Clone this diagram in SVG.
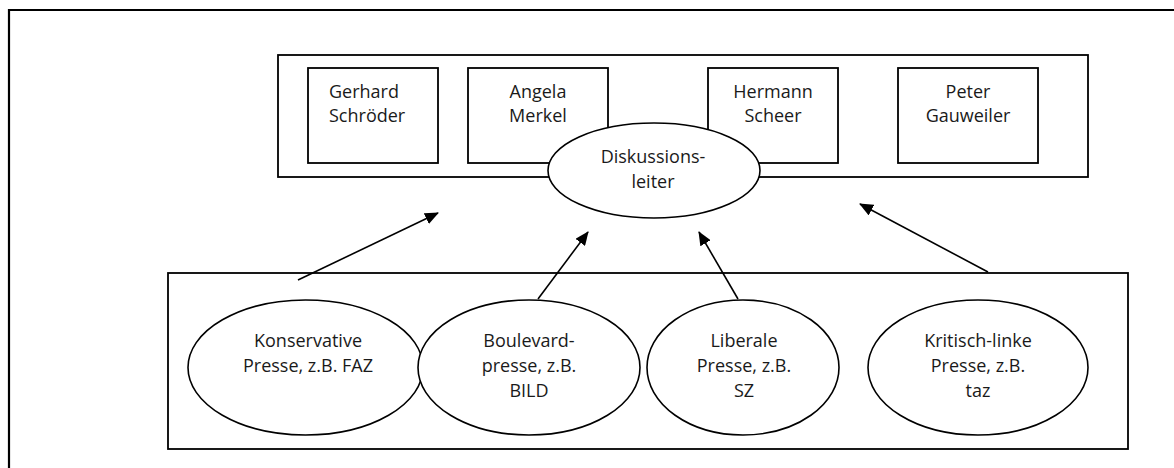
<svg xmlns="http://www.w3.org/2000/svg" width="1174" height="468" viewBox="0 0 1174 468">
<style>
.box{fill:#fff;stroke:#000;stroke-width:1.8}
.ell{fill:#fff;stroke:#000;stroke-width:1.6}
.t{font-family:"Open Sans","DejaVu Sans",sans-serif;font-size:18px;fill:#1a1a1a;text-anchor:middle}
.l{text-anchor:start}
.con{stroke:#000;stroke-width:1.6;fill:none;marker-end:url(#ah)}
</style>
<defs>
<marker id="ah" markerWidth="14" markerHeight="12" refX="13" refY="6" orient="auto" markerUnits="userSpaceOnUse">
<path d="M0,0 L14,6 L0,12 Z" fill="#000"/>
</marker>
</defs>
<rect width="1174" height="468" fill="#fff"/>
<path d="M9,468 L9,10 L1174,10" fill="none" stroke="#000" stroke-width="2.2"/>

<g id="podium">
<rect class="box" x="278" y="55" width="810" height="122"/>
</g>
<g id="schroeder">
<rect class="box" x="308" y="68" width="130" height="95"/>
<text class="t l" x="329" y="98">Gerhard</text>
<text class="t l" x="329" y="122">Schröder</text>
</g>
<g id="merkel">
<rect class="box" x="468" y="68" width="140" height="95"/>
<text class="t" x="538" y="98">Angela</text>
<text class="t" x="538" y="122">Merkel</text>
</g>
<g id="scheer">
<rect class="box" x="708" y="68" width="130" height="95"/>
<text class="t" x="773" y="98">Hermann</text>
<text class="t" x="773" y="122">Scheer</text>
</g>
<g id="gauweiler">
<rect class="box" x="898" y="68" width="140" height="95"/>
<text class="t" x="968" y="98">Peter</text>
<text class="t" x="968" y="122">Gauweiler</text>
</g>
<g id="diskussionsleiter">
<ellipse class="ell" cx="654" cy="170.5" rx="106" ry="47.5"/>
<text class="t" x="653" y="163">Diskussions-</text>
<text class="t" x="653" y="188">leiter</text>
</g>

<g id="presse">
<rect class="box" x="168" y="273" width="960" height="176"/>
</g>
<g id="konservativ">
<ellipse class="ell" cx="305.5" cy="367.5" rx="117.5" ry="67.5"/>
<text class="t" x="308" y="347">Konservative</text>
<text class="t" x="308" y="372">Presse, z.B. FAZ</text>
</g>
<g id="boulevard">
<ellipse class="ell" cx="529" cy="367.5" rx="111" ry="67.5"/>
<text class="t" x="529" y="347">Boulevard-</text>
<text class="t" x="529" y="372">presse, z.B.</text>
<text class="t" x="529" y="397">BILD</text>
</g>
<g id="liberal">
<ellipse class="ell" cx="743" cy="367.5" rx="96" ry="67.5"/>
<text class="t" x="744" y="347">Liberale</text>
<text class="t" x="744" y="372">Presse, z.B.</text>
<text class="t" x="744" y="397">SZ</text>
</g>
<g id="kritisch">
<ellipse class="ell" cx="978" cy="367.5" rx="110" ry="67.5"/>
<text class="t" x="978" y="347">Kritisch-linke</text>
<text class="t" x="978" y="372">Presse, z.B.</text>
<text class="t" x="978" y="397">taz</text>
</g>

<g id="connectors">
<line class="con" x1="298" y1="280" x2="438" y2="213"/>
<line class="con" x1="538" y1="299" x2="588" y2="232"/>
<line class="con" x1="738" y1="299" x2="699" y2="232"/>
<line class="con" x1="988" y1="272" x2="860" y2="204"/>
</g>
</svg>
